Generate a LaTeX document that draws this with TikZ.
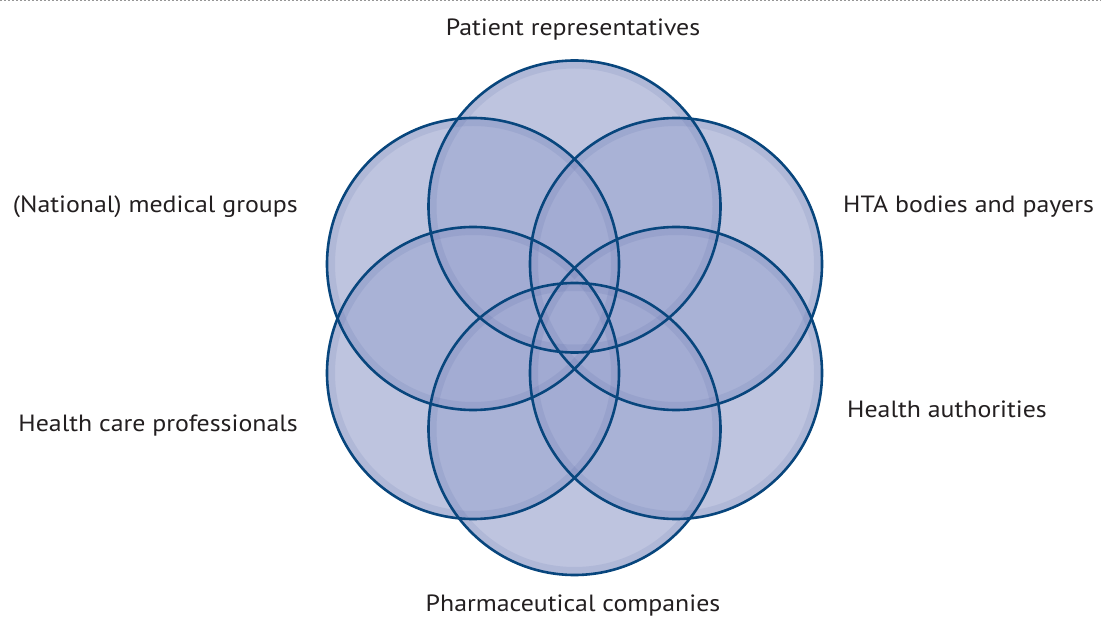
\documentclass[tikz,border=0pt]{standalone}
\usepackage{fontspec}
\setmainfont[FakeStretch=1.1]{PT Sans}
\definecolor{ringline}{RGB}{8,70,125}
\definecolor{ringfill}{RGB}{161,170,210}
\definecolor{ringshade}{RGB}{60,80,150}
\definecolor{dotgray}{RGB}{150,150,150}
\definecolor{txt}{RGB}{35,31,32}
\begin{document}
\begin{tikzpicture}[x=1pt,y=-1pt,
  ring/.style={circle,fill=ringfill,fill opacity=0.69,minimum size=292pt,inner sep=0pt},
  ringedge/.style={draw=ringline,line width=2.6pt},
  ringglow/.style={draw=ringshade,line width=7pt,draw opacity=0.10},
  lbl/.style={font=\fontsize{23.5}{28}\selectfont,text=txt,inner sep=0pt}]
\useasboundingbox (0,0) rectangle (1101,617);
\fill[white] (0,0) rectangle (1101,617);
\coordinate (dl) at (0,1);
\coordinate (dr) at (1101,1);
\draw[dotgray,line width=1pt,dash pattern=on 2pt off 2pt] (dl) -- (dr);
\node[ring] (top) at (574.5,206.5) {};
\node[ring] (ul) at (473,264) {};
\node[ring] (ur) at (676,264) {};
\node[ring] (ll) at (473,373) {};
\node[ring] (lr) at (676,373) {};
\node[ring] (bot) at (574.5,429) {};
\foreach \n in {top,ul,ur,ll,lr,bot}{
  \draw[ringglow] (\n.center) circle[radius=141.5pt];
}
\foreach \n in {top,ul,ur,ll,lr,bot}{
  \draw[ringedge] (\n.center) circle[radius=146pt];
}
\node[lbl,anchor=base] (tpatient) at (573,36) {Patient representatives};
\node[lbl,anchor=base east] (tnat) at (298,213) {(National) medical groups};
\node[lbl,anchor=base west] (thta) at (843,213) {HTA bodies and payers};
\node[lbl,anchor=base east] (thcp) at (298,432) {Health care professionals};
\node[lbl,anchor=base west] (tha) at (847,418) {Health authorities};
\node[lbl,anchor=base] (tpharm) at (573,611) {Pharmaceutical companies};
\end{tikzpicture}
\end{document}
